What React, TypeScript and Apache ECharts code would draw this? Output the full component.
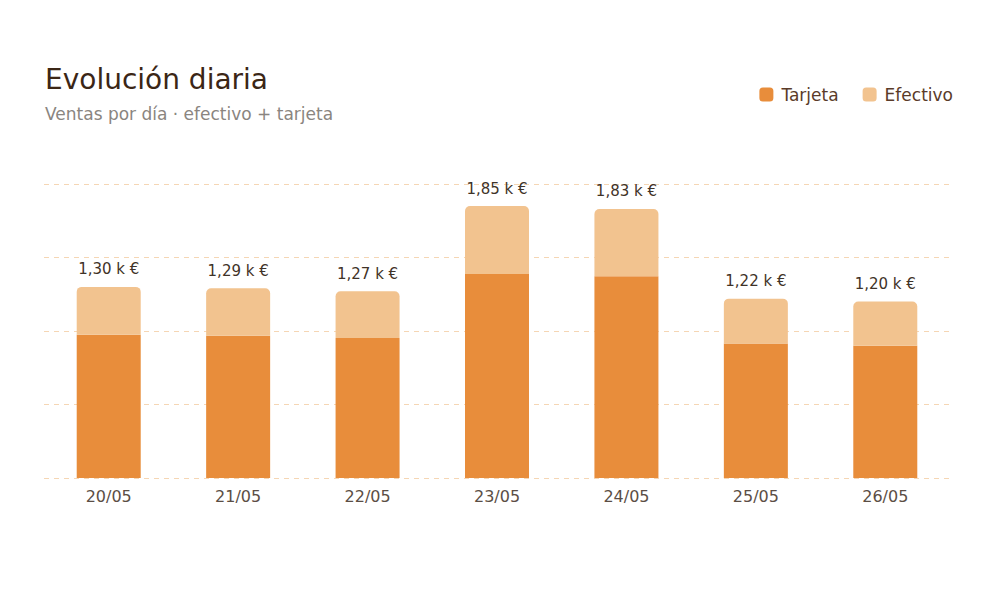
import React, { useEffect, useRef } from "react";
import * as echarts from "echarts";

const categories = ["20/05", "21/05", "22/05", "23/05", "24/05", "25/05", "26/05"];
const tarjeta = [975, 968, 952, 1388, 1372, 915, 900];
const efectivo = [325, 322, 318, 462, 458, 305, 300];

const FONT = "'DejaVu Sans', Inter, sans-serif";

export default function App() {
  const ref = useRef<HTMLDivElement>(null);
  useEffect(() => {
    if (!ref.current) return;
    const chart = echarts.init(ref.current, undefined, { renderer: "svg" });
    const totals = tarjeta.map((v, i) => v + efectivo[i]);
    chart.setOption({
      animation: false,
      backgroundColor: "#ffffff",
      textStyle: { fontFamily: FONT },
      title: {
        text: "Evolución diaria",
        subtext: "Ventas por día · efectivo + tarjeta",
        left: 40,
        top: 60,
        itemGap: 12,
        textStyle: { fontFamily: FONT, fontSize: 28, fontWeight: 400, color: "#3b2616" },
        subtextStyle: { fontFamily: FONT, fontSize: 17, color: "#8a8580" },
      },
      legend: {
        right: 42,
        top: 81,
        itemWidth: 14,
        itemHeight: 14,
        itemGap: 24,
        icon: "roundRect",
        textStyle: { fontFamily: FONT, fontSize: 17, color: "#5a3b29", padding: [0, 0, 0, 3] },
        data: ["Tarjeta", "Efectivo"],
      },
      grid: { left: 44, right: 50, top: 184, bottom: 122 },
      xAxis: {
        type: "category",
        data: categories,
        axisLine: { show: false },
        axisTick: { show: false },
        axisLabel: { fontFamily: FONT, fontSize: 16, color: "#5b4e45", margin: 10 },
      },
      yAxis: {
        type: "value",
        min: 0,
        max: 2000,
        interval: 500,
        axisLabel: { show: false },
        axisLine: { show: false },
        axisTick: { show: false },
        splitLine: { lineStyle: { color: "#f5d6b4", type: [5, 5], width: 1 } },
      },
      series: [
        {
          name: "Tarjeta",
          type: "bar",
          stack: "total",
          data: tarjeta,
          barWidth: 64,
          itemStyle: { color: "#e88d3b" },
        },
        {
          name: "Efectivo",
          type: "bar",
          stack: "total",
          data: efectivo,
          barWidth: 64,
          itemStyle: { color: "#f2c38f", borderRadius: [5, 5, 0, 0] },
          label: {
            show: true,
            position: "top",
            distance: 10,
            fontFamily: FONT,
            fontSize: 15,
            fontWeight: 400,
            color: "#3f3328",
            formatter: (p: any) =>
              (totals[p.dataIndex] / 1000).toFixed(2).replace(".", ",") + " k €",
          },
        },
      ],
    });
    return () => chart.dispose();
  }, []);
  return <div ref={ref} style={{ position: "fixed", left: 0, top: 0, width: 1000, height: 600 }} />;
}
